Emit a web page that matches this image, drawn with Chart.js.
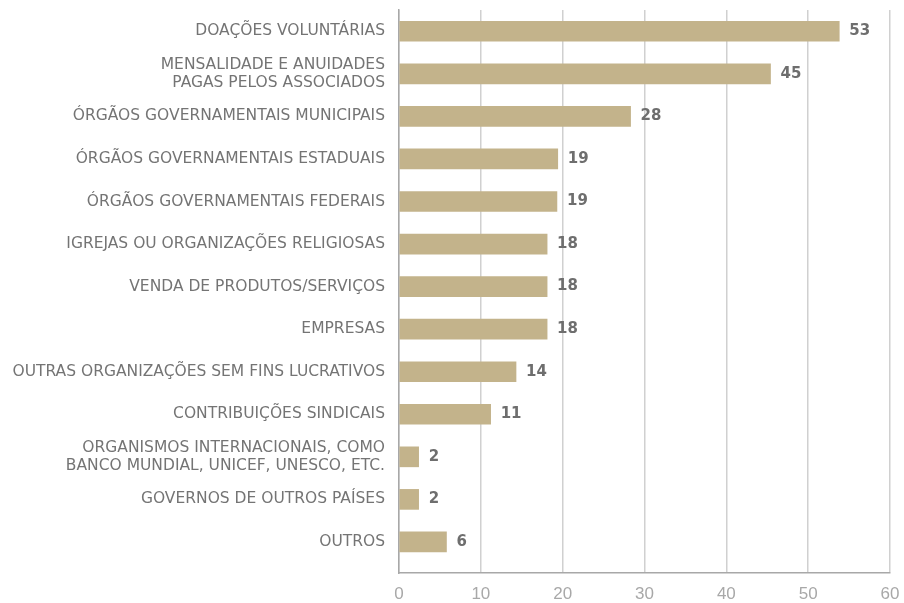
<!DOCTYPE html>
<html>
<head>
<meta charset="utf-8">
<script src="https://cdn.jsdelivr.net/npm/chart.js@4/dist/chart.umd.min.js"></script>
<style>
  html, body { margin: 0; padding: 0; background: #fff; }
  .chart-wrap { width: 904px; height: 603px; position: relative; }
</style>
</head>
<body>
<div class="chart-wrap"><canvas id="chart"></canvas></div>
<script>
const categories = [
  "DOAÇÕES VOLUNTÁRIAS",
  ["MENSALIDADE E ANUIDADES", "PAGAS PELOS ASSOCIADOS"],
  "ÓRGÃOS GOVERNAMENTAIS MUNICIPAIS",
  "ÓRGÃOS GOVERNAMENTAIS ESTADUAIS",
  "ÓRGÃOS GOVERNAMENTAIS FEDERAIS",
  "IGREJAS OU ORGANIZAÇÕES RELIGIOSAS",
  "VENDA DE PRODUTOS/SERVIÇOS",
  "EMPRESAS",
  "OUTRAS ORGANIZAÇÕES SEM FINS LUCRATIVOS",
  "CONTRIBUIÇÕES SINDICAIS",
  ["ORGANISMOS INTERNACIONAIS, COMO", "BANCO MUNDIAL, UNICEF, UNESCO, ETC."],
  "GOVERNOS DE OUTROS PAÍSES",
  "OUTROS",
];

// bar lengths
const values = [53.8, 45.4, 28.3, 19.4, 19.3, 18.1, 18.1, 18.1, 14.3, 11.2, 2.4, 2.4, 5.8];
// numbers printed next to the bars
const valueLabels = ["53", "45", "28", "19", "19", "18", "18", "18", "14", "11", "2", "2", "6"];

const xTicks = [0, 10, 20, 30, 40, 50, 60];

const barLabels = {
  id: "barLabels",
  afterDatasetsDraw(chart) {
    const { ctx } = chart;
    const meta = chart.getDatasetMeta(0);
    ctx.save();
    ctx.font = "bold 15px 'DejaVu Sans', sans-serif";
    ctx.fillStyle = "#6e6e6e";
    ctx.textAlign = "left";
    ctx.textBaseline = "middle";
    meta.data.forEach((bar, i) => {
      ctx.fillText(valueLabels[i], bar.x + 10, bar.y);
    });
    ctx.restore();
  },
};

const ctx = document.getElementById("chart");

new Chart(ctx, {
  type: "bar",
  data: {
    datasets: [
      {
        data: values.map((v, i) => ({ x: v, y: i })),
        backgroundColor: "#c3b38b",
        barThickness: 20,
      },
    ],
  },
  options: {
    indexAxis: "y",
    responsive: true,
    maintainAspectRatio: false,
    animation: false,
    layout: { padding: { top: 10, right: 14, bottom: 0, left: 0 } },
    plugins: {
      legend: { display: false },
      tooltip: { enabled: false },
    },
    scales: {
      x: {
        type: "linear",
        min: 0,
        max: 60,
        afterBuildTicks: (scale) => {
          scale.ticks = xTicks.map((v) => ({ value: v }));
        },
        afterFit: (scale) => {
          scale.height = 30;
          scale.paddingLeft = 0;
          scale.paddingRight = 0;
        },
        grid: {
          color: "#d0d0d0",
          lineWidth: 1.5,
          drawTicks: false,
        },
        border: { color: "#a8a8a8", width: 1.5 },
        ticks: {
          color: "#a8a8a8",
          padding: 11,
          font: { family: "'Liberation Sans', Arial, sans-serif", size: 17 },
        },
      },
      y: {
        type: "linear",
        reverse: true,
        offset: false,
        min: -0.5,
        max: 12.73,
        afterBuildTicks: (scale) => {
          scale.ticks = categories.map((c, i) => ({ value: i }));
        },
        afterFit: (scale) => {
          scale.width = 399;
          scale.paddingTop = 0;
          scale.paddingBottom = 0;
        },
        grid: { display: false, drawTicks: false },
        border: { color: "#a8a8a8", width: 1.5 },
        ticks: {
          autoSkip: false,
          color: "#747474",
          padding: 14,
          callback: (value) => categories[value],
          font: { family: "'DejaVu Sans', sans-serif", size: 15.5, lineHeight: 1.17 },
        },
      },
    },
  },
  plugins: [barLabels],
});
</script>
</body>
</html>
